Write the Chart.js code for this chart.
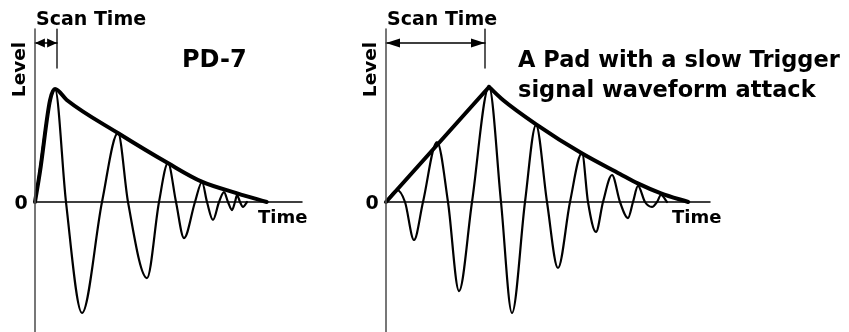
<!DOCTYPE html>
<html><head><meta charset="utf-8">
<script src="https://cdn.jsdelivr.net/npm/chart.js@4/dist/chart.umd.min.js"></script>
<style>
html,body{margin:0;padding:0;background:#fff;}
#wrap{position:relative;width:849px;height:332px;overflow:hidden;background:#fff;}
#c1{position:absolute;left:0;top:0;}
#c2{position:absolute;left:350px;top:0;}
</style></head><body>
<div id="wrap"><canvas id="c1" width="350" height="332"></canvas><canvas id="c2" width="499" height="332"></canvas></div>
<script>
// ---- Left panel: PD-7 (time in arbitrary units, level in % of first peak) ----
const pd7WaveTime  = [0, 8, 12.4, 18.8, 26.8, 33.2, 37.2, 44.8, 49.6, 53.2, 56.4, 59.6, 64, 66.8, 68.8, 71.2, 73.6, 75.6, 77.2, 78.8, 80, 80.8, 82, 83.2, 84.8];
const pd7WaveLevel = [0, 100, 0, -98.2, 0, 61.1, 0, -67.3, 0, 34.5, 0, -31.9, 0, 17.7, 0, -15.9, 0, 8.8, 0, -7.1, 0, 6.2, 0, -4.4, 0];
const pd7EnvTime   = [0, 2, 6, 8, 12.7, 33.3, 53.3, 66.7, 80.9, 92.7];
const pd7EnvLevel  = [0, 27, 90, 100, 90.3, 60.8, 34.2, 18, 7.7, 0];
const pd7ScanTime  = 8.8;
const pd7AxisEnd   = 106.8;

// ---- Right panel: pad with a slow attack ----
const slowWaveTime  = [0, 4.4, 7.6, 11.2, 14.8, 20.4, 24.8, 29.2, 34.4, 41.2, 46, 50.4, 55.6, 60, 64.4, 68.8, 73.6, 78.4, 80.8, 84, 86.8, 90.4, 93.6, 96.8, 98.8, 100.8, 103.6, 106.4, 108.4, 110, 112.4];
const slowWaveLevel = [0, 10.6, 0, -33.6, 0, 53.1, 0, -78.8, 0, 101.8, 0, -98.2, 0, 68.1, 0, -58.4, 0, 43.4, 0, -26.5, 0, 23.9, 0, -14.2, 0, 14.2, 0, -4.4, 0, 6.2, 0];
const slowRiseTime  = [0, 41.2];
const slowRiseLevel = [0, 101.8];
const slowDecayTime  = [41.2, 46.8, 59.9, 78.3, 93.6, 100.7, 110, 120.9];
const slowDecayLevel = [101.8, 90.3, 69, 43.1, 24.8, 16.5, 7.7, 0];
const slowScanTime = 39.6;
const slowAxisEnd  = 129.6;

// shared axis extents (level units)
const levelAxisTop = 153;
const levelAxisBottom = -130;
const scanTickBottom = 118.6;
const scanArrowLevel = 140.7;

const FONT = '"DejaVu Sans", Verdana, sans-serif';

function pts(xs, ys){ return xs.map((x,i)=>({x:x, y:ys[i]})); }

function lineDs(data, width, color, mode, extra){
  return Object.assign({data:data, borderColor:color, borderWidth:width, pointRadius:0,
    fill:false, tension: mode ? 0.4 : 0, cubicInterpolationMode: mode || 'default',
    borderCapStyle:'round', borderJoinStyle:'round'}, extra||{});
}

function makeChart(id, cfg){
  const datasets = [
    lineDs(pts([0,0],[levelAxisBottom, levelAxisTop]), 1.6, '#555555', null),
    lineDs(pts([0,cfg.axisEnd],[0,0]), 1.5, '#000', null),
    lineDs(pts([cfg.scan,cfg.scan],[scanTickBottom, levelAxisTop]), 1.3, '#000', null),
    lineDs(pts([0,cfg.scan],[scanArrowLevel, scanArrowLevel]), 1.5, '#000', null, {arrows:true}),
  ].concat(cfg.curves);
  const textPlugin = {
    id:'texts',
    afterDatasetsDraw(chart){
      const ctx = chart.ctx, xs = chart.scales.x, ys = chart.scales.y;
      const ax = xs.getPixelForValue(0), zy = ys.getPixelForValue(0);
      // arrowheads
      chart.data.datasets.forEach((ds,i)=>{
        if(!ds.arrows) return;
        const p0 = {x:xs.getPixelForValue(ds.data[0].x), y:ys.getPixelForValue(ds.data[0].y)};
        const p1 = {x:xs.getPixelForValue(ds.data[1].x), y:ys.getPixelForValue(ds.data[1].y)};
        const span = Math.abs(p1.x-p0.x);
        const L = Math.min(14, span*0.45), H = Math.min(4.5, span*0.16+1);
        ctx.save(); ctx.fillStyle='#000';
        ctx.beginPath(); ctx.moveTo(p0.x, p0.y); ctx.lineTo(p0.x+L, p0.y-H); ctx.lineTo(p0.x+L, p0.y+H); ctx.closePath(); ctx.fill();
        ctx.beginPath(); ctx.moveTo(p1.x, p1.y); ctx.lineTo(p1.x-L, p1.y-H); ctx.lineTo(p1.x-L, p1.y+H); ctx.closePath(); ctx.fill();
        ctx.restore();
      });
      ctx.save();
      ctx.fillStyle = '#000';
      ctx.textBaseline = 'alphabetic';
      ctx.textAlign = 'left';
      ctx.font = 'bold 19px ' + FONT;
      ctx.fillText('Scan Time', ax + 1, 25);
      // Level (rotated)
      ctx.save();
      ctx.translate(ax - 15, 69.5);
      ctx.rotate(-Math.PI/2);
      ctx.textAlign = 'center'; ctx.textBaseline = 'middle';
      ctx.font = 'bold 18.5px ' + FONT;
      ctx.fillText('Level', 0, 0);
      ctx.restore();
      // zero label
      ctx.textAlign = 'center'; ctx.textBaseline = 'middle';
      ctx.font = 'bold 19px ' + FONT;
      ctx.fillText('0', ax - 14, zy + 2);
      // Time label
      ctx.textAlign = 'left'; ctx.textBaseline = 'alphabetic';
      ctx.font = 'bold 18px ' + FONT;
      ctx.fillText('Time', xs.getPixelForValue(cfg.timeLabelAt), zy + 21);
      // titles
      cfg.titles.forEach(t=>{
        ctx.font = 'bold ' + t.size + 'px ' + FONT;
        ctx.fillText(t.text, ax + t.dx, t.y);
      });
      ctx.restore();
    }
  };
  return new Chart(document.getElementById(id), {
    type:'line',
    data:{datasets:datasets},
    options:{
      responsive:false, animation:false, events:[],
      layout:{padding:0},
      plugins:{legend:{display:false}, tooltip:{enabled:false}},
      scales:{
        x:{type:'linear', display:false, min:cfg.xmin, max:cfg.xmax},
        y:{type:'linear', display:false, min:-115.04, max:178.76}
      }
    },
    plugins:[textPlugin]
  });
}

makeChart('c1', {
  xmin:-14, xmax:126, scan:pd7ScanTime, axisEnd:pd7AxisEnd, timeLabelAt:89.2,
  curves:[
    lineDs(pts(pd7WaveTime, pd7WaveLevel), 2.2, '#000', 'monotone'),
    lineDs(pts(pd7EnvTime, pd7EnvLevel), 4, '#000', 'monotone')
  ],
  titles:[{text:'PD-7', size:24, dx:147, y:67}]
});

makeChart('c2', {
  xmin:-14.4, xmax:185.2, scan:slowScanTime, axisEnd:slowAxisEnd, timeLabelAt:114.4,
  curves:[
    lineDs(pts(slowWaveTime, slowWaveLevel), 2.2, '#000', 'monotone'),
    lineDs(pts(slowRiseTime, slowRiseLevel), 4, '#000', null),
    lineDs(pts(slowDecayTime, slowDecayLevel), 4, '#000', 'monotone')
  ],
  titles:[
    {text:'A Pad with a slow Trigger', size:22.5, dx:132, y:67},
    {text:'signal waveform attack', size:22.5, dx:132, y:97}
  ]
});
</script>
</body></html>
